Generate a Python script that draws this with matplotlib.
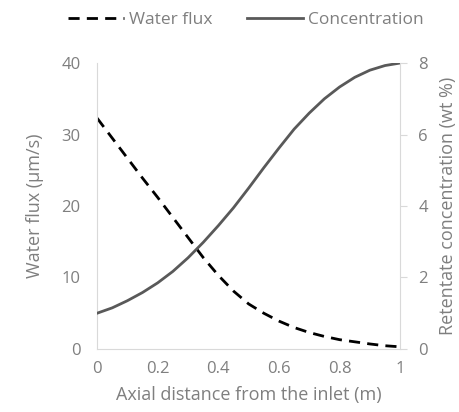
import matplotlib.pyplot as plt
from matplotlib.lines import Line2D

plt.rcParams['font.family'] = ['Open Sans', 'DejaVu Sans']

# values
distance = [0, 0.05, 0.1, 0.15, 0.2, 0.25, 0.3, 0.35, 0.4, 0.45, 0.5,
            0.55, 0.6, 0.65, 0.7, 0.75, 0.8, 0.85, 0.9, 0.95, 1.0]
water_flux = [32.3, 29.5, 26.7, 23.9, 21.2, 18.4, 15.6, 12.8, 10.3, 8.1, 6.3,
              5.0, 3.9, 3.0, 2.3, 1.75, 1.3, 1.0, 0.7, 0.45, 0.3]
concentration = [1.0, 1.15, 1.35, 1.58, 1.85, 2.17, 2.55, 2.98, 3.45, 3.95, 4.5,
                 5.07, 5.62, 6.15, 6.6, 7.0, 7.33, 7.6, 7.8, 7.93, 8.0]

grey = '#7f7f7f'
spine_col = '#d9d9d9'

fig = plt.figure(figsize=(4.6, 4.12), dpi=100)
ax = fig.add_axes([0.211, 0.153, 0.659, 0.694])
ax2 = ax.twinx()

ax.plot(distance, water_flux, color='black', lw=2, ls=(0, (4, 2.6)))
ax2.plot(distance, concentration, color='#595959', lw=2)

ax.set_xlim(0, 1)
ax.set_ylim(0, 40)
ax2.set_ylim(0, 8)
ax.set_xticks([0, 0.2, 0.4, 0.6, 0.8, 1])
ax.set_xticklabels(['0', '0.2', '0.4', '0.6', '0.8', '1'])
ax.set_yticks([0, 10, 20, 30, 40])
ax2.set_yticks([0, 2, 4, 6, 8])

for a in (ax, ax2):
    for s in a.spines.values():
        s.set_color(spine_col)
    a.spines['top'].set_visible(False)
ax2.spines['left'].set_visible(False)
ax2.spines['bottom'].set_visible(False)
ax.spines['right'].set_visible(False)

ax.tick_params(axis='both', length=0, labelsize=12, labelcolor=grey, pad=12)
ax.tick_params(axis='x', pad=9)
ax2.tick_params(axis='y', length=5, color=spine_col, labelsize=12,
                labelcolor=grey, pad=8)

ax.set_xlabel('Axial distance from the inlet (m)', fontsize=13, color=grey, labelpad=6)
ax.set_ylabel('Water flux (\u00b5m/s)', fontsize=13, color=grey, labelpad=12)
ax2.set_ylabel('Retentate concentration (wt %)', fontsize=13, color=grey, labelpad=8)

handles = [Line2D([], [], color='black', lw=2, ls=(0, (4, 2.6))),
           Line2D([], [], color='#595959', lw=2)]
fig.legend(handles, ['Water flux', 'Concentration'], loc='center',
           bbox_to_anchor=(0.535, 0.952), ncol=2, frameon=False,
           fontsize=12.5, labelcolor=grey, handlelength=3.2, columnspacing=2.0,
           handletextpad=0.3)

fig.savefig('out.png', dpi=100)
